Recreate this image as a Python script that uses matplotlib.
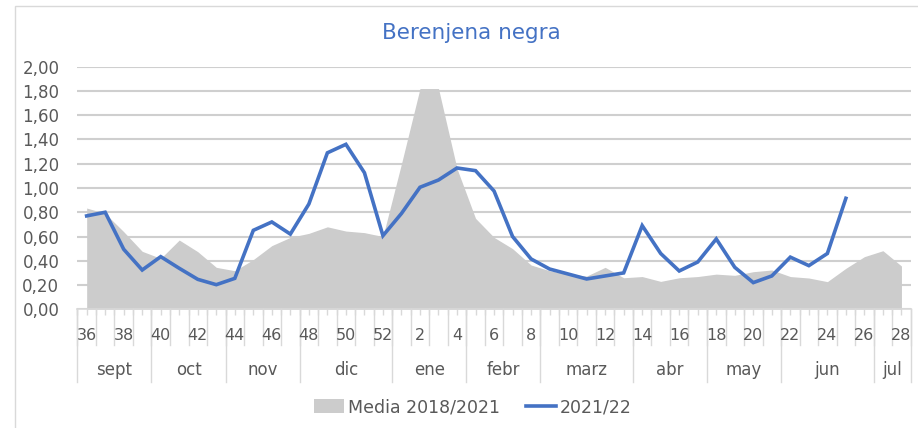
import numpy as np
import matplotlib
matplotlib.use("Agg")
import matplotlib.pyplot as plt
from matplotlib.patches import Patch, Rectangle
from matplotlib.lines import Line2D
import matplotlib.transforms as mtransforms

semanas = list(range(36, 53)) + list(range(1, 29))

media = [0.835, 0.79, 0.64, 0.478, 0.42, 0.571, 0.475, 0.346, 0.318, 0.41,
         0.525, 0.593, 0.626, 0.68, 0.645, 0.632, 0.60,
         1.20, 1.82, 1.82, 1.16, 0.75, 0.593, 0.50, 0.365, 0.318, 0.29,
         0.274, 0.346, 0.26, 0.27, 0.23, 0.26, 0.27, 0.29, 0.28, 0.31,
         0.324, 0.27, 0.258, 0.228, 0.338, 0.434, 0.483, 0.357]

actual = [0.77, 0.80, 0.495, 0.324, 0.434, 0.338, 0.247, 0.203, 0.255, 0.651,
          0.72, 0.62, 0.868, 1.29, 1.36, 1.126, 0.607,
          0.79, 1.006, 1.066, 1.165, 1.143, 0.975, 0.60, 0.415, 0.332, 0.291,
          0.25, 0.275, 0.30, 0.69, 0.46, 0.316, 0.39, 0.58, 0.346, 0.22,
          0.275, 0.43, 0.36, 0.46, 0.915]

meses = ["sept", "oct", "nov", "dic", "ene", "febr", "marz", "abr", "may", "jun", "jul"]
semanas_por_mes = [4, 4, 4, 5, 4, 4, 5, 4, 4, 5, 2]

AZUL = "#4472C4"
GRIS = "#CCCCCC"
TEXTO = "#595959"
LINEAS = "#D9D9D9"

plt.rcParams["font.family"] = ["DejaVu Sans"]

x = np.arange(len(semanas))
y_actual = np.full(len(semanas), np.nan)
y_actual[:len(actual)] = actual

fig = plt.figure(figsize=(9.18, 4.28), dpi=100)
ax = fig.add_axes([77.4 / 918, 118.7 / 428, 833.3 / 918, 242.6 / 428])

ax.fill_between(x, media, 0, color=GRIS, linewidth=0, zorder=2)
ax.plot(x, y_actual, color=AZUL, linewidth=2.6, zorder=3, solid_joinstyle="miter")

ax.set_xlim(-0.5, len(semanas) - 0.5)
ax.set_ylim(0, 2.0)
ax.set_yticks(np.arange(0, 2.01, 0.2))
ax.set_yticklabels([f"{v:.2f}".replace(".", ",") for v in np.arange(0, 2.01, 0.2)])
ax.tick_params(axis="y", length=0, pad=13, labelsize=12, labelcolor=TEXTO)
ax.yaxis.grid(True, color="#CFCFCF", linewidth=1.5, zorder=1)
ax.set_axisbelow(True)

for lado in ["left", "right", "top"]:
    ax.spines[lado].set_visible(False)
ax.spines["bottom"].set_color(LINEAS)
ax.spines["bottom"].set_linewidth(1.2)
ax.spines["bottom"].set_zorder(4)

# ticks cortos en centros y limites de cada semana
ax.set_xticks(x)
ax.set_xticks(x - 0.5, minor=True)
ax.tick_params(axis="x", which="both", length=4, color=LINEAS, width=1,
               labelbottom=False)

trans = mtransforms.blended_transform_factory(ax.transData, ax.transAxes)

# etiquetas de semana (una si, una no) y lineas de separacion
for i, s in enumerate(semanas):
    if i % 2 == 0:
        ax.text(i, -0.106, str(s), transform=trans, ha="center", va="center",
                fontsize=11.5, color=TEXTO)
for b in np.arange(-0.5, len(semanas)):
    ax.plot([b, b], [0, -0.147], transform=trans, color=LINEAS, lw=1,
            clip_on=False)

# meses
inicio = -0.5
for mes, n in zip(meses, semanas_por_mes):
    fin = inicio + n
    ax.text((inicio + fin) / 2, -0.25, mes, transform=trans, ha="center",
            va="center", fontsize=12, color=TEXTO)
    ax.plot([fin, fin], [0, -0.298], transform=trans, color=LINEAS, lw=1,
            clip_on=False)
    inicio = fin
ax.plot([-0.5, -0.5], [0, -0.298], transform=trans, color=LINEAS, lw=1,
        clip_on=False)

fig.text(471 / 918, 1 - 33 / 428, "Berenjena negra", ha="center", va="center",
         fontsize=15.5, color=AZUL)

handles = [Patch(facecolor=GRIS, edgecolor="none", label="Media 2018/2021"),
           Line2D([0], [0], color=AZUL, lw=2.6, label="2021/22")]
fig.legend(handles=handles, loc="center", bbox_to_anchor=(473 / 918, 21 / 428),
           ncol=2, frameon=False, fontsize=12.5, labelcolor=TEXTO,
           handlelength=1.7, handleheight=0.85, handletextpad=0.25,
           columnspacing=1.5)

fig.patches.append(Rectangle((14.5 / 918, -0.1), 1.0, 1.1 - 6 / 428,
                             transform=fig.transFigure, fill=False,
                             edgecolor=LINEAS, linewidth=1))

fig.savefig("out.png", dpi=100)
